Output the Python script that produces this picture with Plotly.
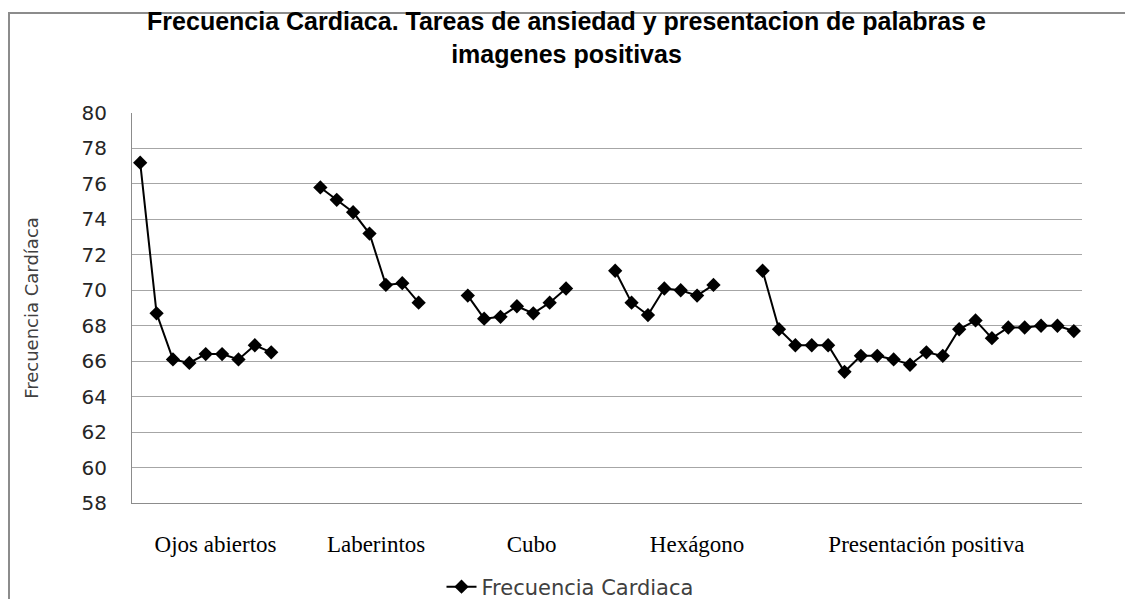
import plotly.graph_objects as go

# ---- data ----
ojos_abiertos = [77.2, 68.7, 66.1, 65.9, 66.4, 66.4, 66.1, 66.9, 66.5]
laberintos = [75.8, 75.1, 74.4, 73.2, 70.3, 70.4, 69.3]
cubo = [69.7, 68.4, 68.5, 69.1, 68.7, 69.3, 70.1]
hexagono = [71.1, 69.3, 68.6, 70.1, 70.0, 69.7, 70.3]
presentacion_positiva = [71.1, 67.8, 66.9, 66.9, 66.9, 65.4, 66.3, 66.3, 66.1, 65.8,
                         66.5, 66.3, 67.8, 68.3, 67.3, 67.9, 67.9, 68.0, 68.0, 67.7]
group_labels = ["Ojos abiertos", "Laberintos", "Cubo", "Hexágono", "Presentación positiva"]
gap_len = 2  # empty categories between groups

groups = [ojos_abiertos, laberintos, cubo, hexagono, presentacion_positiva]
y = []
for i, g in enumerate(groups):
    if i > 0:
        y += [None] * gap_len
    y += g
x = list(range(len(y)))

# label positions (in category units) where the group captions sit
label_pos = [4.6, 14.4, 23.9, 34.0, 48.0]

# the page adds an 8px body margin; the figure is shifted accordingly
W, H = 1125, 599
L, R, T, B = 124, 51, 105, 104
PW, PH = W - L - R, H - T - B

fig = go.Figure()
fig.add_trace(go.Scatter(
    x=x, y=y, mode="lines+markers", name="Frecuencia Cardiaca",
    connectgaps=False,
    line=dict(color="black", width=2),
    marker=dict(symbol="diamond", size=11, color="black"),
))

grid = "#a6a6a6"
fig.update_layout(
    width=W, height=H,
    margin=dict(l=L, r=R, t=T, b=B),
    paper_bgcolor="white", plot_bgcolor="white",
    title=dict(
        text="Frecuencia Cardiaca. Tareas de ansiedad y presentacion de palabras e<br>imagenes positivas",
        x=0.5 - 4 / W, xref="container", xanchor="center",
        y=1 - 22 / H, yref="container", yanchor="top",
        font=dict(family="Liberation Sans, Arial, sans-serif", size=25, color="black", weight="bold"),
    ),
    showlegend=True,
    legend=dict(
        orientation="h", xref="container", yref="container",
        x=(570 - 8) / W, xanchor="center", y=1 - (587 - 8) / H, yanchor="middle",
        font=dict(family="DejaVu Sans", size=21, color="#404040"),
        bgcolor="rgba(0,0,0,0)",
    ),
    xaxis=dict(
        range=[-0.5, len(y) - 0.5], automargin=False,
        tickmode="array", tickvals=label_pos, ticktext=group_labels,
        tickfont=dict(family="Liberation Serif, Times New Roman, serif", size=23, color="black"),
        ticks="", ticklabelstandoff=20,
        showgrid=False, zeroline=False,
        showline=True, linecolor="#8c8c8c", linewidth=1,
    ),
    yaxis=dict(
        range=[58, 80], dtick=2, tick0=58, automargin=False,
        tickfont=dict(family="DejaVu Sans", size=20, color="#262626"),
        ticks="", ticklabelstandoff=20,
        showgrid=True, gridcolor=grid, gridwidth=1,
        zeroline=False,
        showline=True, linecolor="#8c8c8c", linewidth=1,
        title=dict(text="Frecuencia Cardíaca", standoff=38,
                   font=dict(family="DejaVu Sans", size=18, color="#404040")),
    ),
    shapes=[dict(
        type="rect", xref="paper", yref="paper",
        x0=(1 - L) / PW, x1=1.3, y0=-0.5, y1=(PH + T - 5) / PH,
        line=dict(color="#8c8c8c", width=2), fillcolor="rgba(0,0,0,0)", layer="below",
    )],
)

fig.write_html("out.html")
